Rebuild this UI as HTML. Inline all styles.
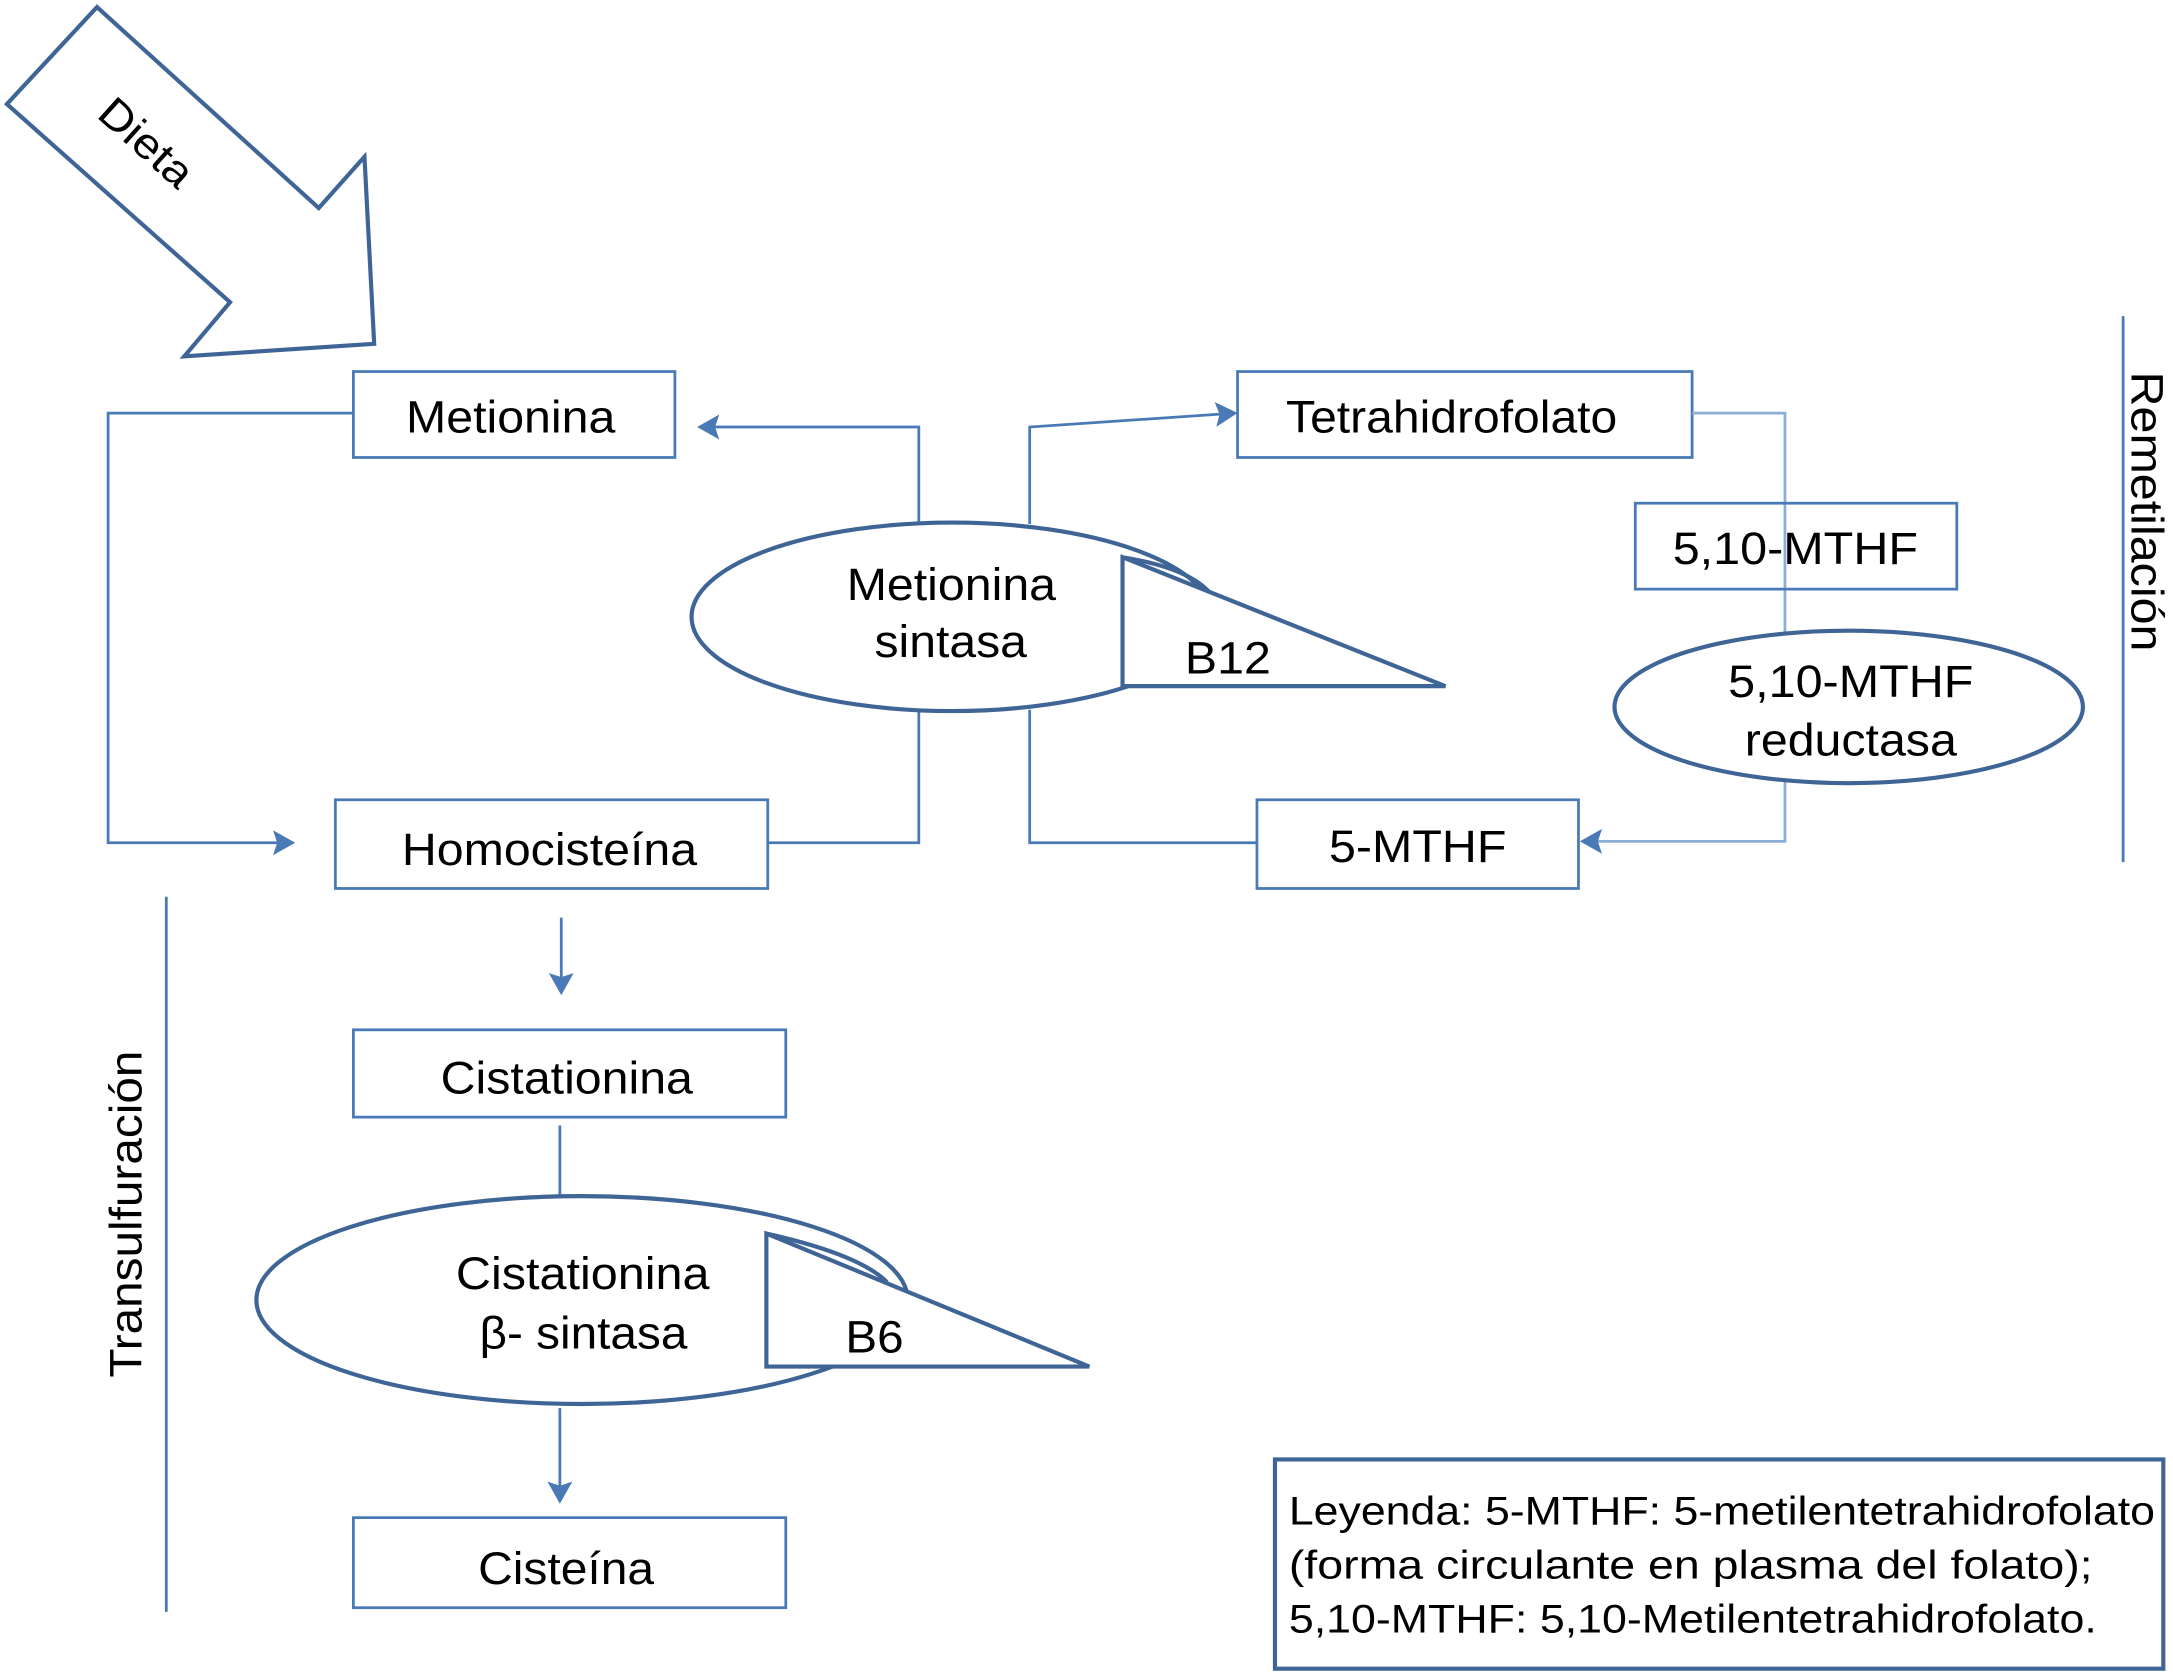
<!DOCTYPE html>
<html><head><meta charset="utf-8"><style>html,body{margin:0;padding:0;background:#fff}svg{display:block}text{font-family:"Liberation Sans",sans-serif;fill:#000}</style></head>
<body>
<svg width="2173" height="1673" viewBox="0 0 1568 1207" xmlns="http://www.w3.org/2000/svg">
<defs>
<marker id="b" markerWidth="16" markerHeight="18" refX="14" refY="9" orient="auto" markerUnits="userSpaceOnUse"><path d="M0,0 L16,9 L0,18 L3,9 Z" fill="#4a7ab5"/></marker></defs>
<g fill="none" stroke="#4a7ab5" stroke-width="2">
<polygon points="5,75 70,5 230,150 263,113 270,248 133,257 166,218" stroke="#3e6596" stroke-width="3"/>
<rect x="255" y="268" width="232" height="62"/>
<polyline points="255,298 78,298 78,608 211,608" marker-end="url(#b)"/>
<rect x="242" y="577" width="312" height="64"/>
<polyline points="663,378 663,308 505,308" marker-end="url(#b)"/>
<polyline points="554,608 663,608 663,512"/>
<polyline points="743,378 743,308 891,298" marker-end="url(#b)"/>
<rect x="893" y="268" width="328" height="62"/>
<polyline points="1221,298 1288,298 1288,607 1142,607" marker-end="url(#b)" stroke="#8aaed6"/>
<rect x="1180" y="363" width="232" height="62"/>
<rect x="907" y="577" width="232" height="64"/>
<polyline points="907,608 743,608 743,512"/>
<line x1="1532" y1="228" x2="1532" y2="622"/>
<line x1="120" y1="647" x2="120" y2="1163"/>
<line x1="405" y1="662" x2="405" y2="716" marker-end="url(#b)"/>
<rect x="255" y="743" width="312" height="63"/>
<line x1="404" y1="812" x2="404" y2="865"/>
<line x1="404" y1="1016" x2="404" y2="1083" marker-end="url(#b)"/>
<rect x="255" y="1095" width="312" height="65"/>
</g>
<g fill="#fff" stroke="#3e6596" stroke-width="3">
<ellipse cx="687" cy="445" rx="188" ry="68"/>
<path d="M810,402 Q860,410 875,430" fill="none"/>
<polygon points="810,402 810,495 1043,495"/>
<ellipse cx="1334" cy="510" rx="169" ry="55"/>
<ellipse cx="420" cy="938" rx="235" ry="75"/>
<path d="M553,890 Q620,905 640,925" fill="none"/>
<polygon points="553,890 553,986 786,986"/>
<rect x="920" y="1053" width="641" height="151" fill="none"/>
</g>
<g font-size="33" lengthAdjust="spacingAndGlyphs">
<text x="68" y="108" transform="rotate(42 100 97)" font-size="31" textLength="80" lengthAdjust="spacingAndGlyphs">Dieta</text>
<text x="293" y="312" textLength="151" lengthAdjust="spacingAndGlyphs">Metionina</text>
<text x="290" y="624" textLength="213" lengthAdjust="spacingAndGlyphs">Homocisteína</text>
<text x="611" y="433" textLength="151" lengthAdjust="spacingAndGlyphs">Metionina</text>
<text x="631" y="474" textLength="110" lengthAdjust="spacingAndGlyphs">sintasa</text>
<text x="855" y="486" textLength="62" lengthAdjust="spacingAndGlyphs">B12</text>
<text x="928" y="312" textLength="239" lengthAdjust="spacingAndGlyphs">Tetrahidrofolato</text>
<text x="1207" y="407" textLength="177" lengthAdjust="spacingAndGlyphs">5,10-MTHF</text>
<text x="1247" y="503" textLength="177" lengthAdjust="spacingAndGlyphs">5,10-MTHF</text>
<text x="1259" y="545" textLength="153" lengthAdjust="spacingAndGlyphs">reductasa</text>
<text x="959" y="622" textLength="128" lengthAdjust="spacingAndGlyphs">5-MTHF</text>
<text x="318" y="789" textLength="182" lengthAdjust="spacingAndGlyphs">Cistationina</text>
<text x="329" y="930" textLength="183" lengthAdjust="spacingAndGlyphs">Cistationina</text>
<text x="346" y="973" textLength="150" lengthAdjust="spacingAndGlyphs">β- sintasa</text>
<text x="610" y="976" textLength="42" lengthAdjust="spacingAndGlyphs">B6</text>
<text x="345" y="1143" textLength="127" lengthAdjust="spacingAndGlyphs">Cisteína</text>
<text transform="translate(1538,268) rotate(90)" textLength="202" lengthAdjust="spacingAndGlyphs">Remetilación</text>
<text transform="translate(102,994) rotate(-90)" textLength="236" lengthAdjust="spacingAndGlyphs">Transulfuración</text>
</g>
<g font-size="29">
<text x="930" y="1100" textLength="625" lengthAdjust="spacingAndGlyphs">Leyenda: 5-MTHF: 5-metilentetrahidrofolato</text>
<text x="930" y="1139" textLength="580" lengthAdjust="spacingAndGlyphs">(forma circulante en plasma del folato);</text>
<text x="930" y="1178" textLength="583" lengthAdjust="spacingAndGlyphs">5,10-MTHF: 5,10-Metilentetrahidrofolato.</text>
</g>
</svg>
</body></html>
